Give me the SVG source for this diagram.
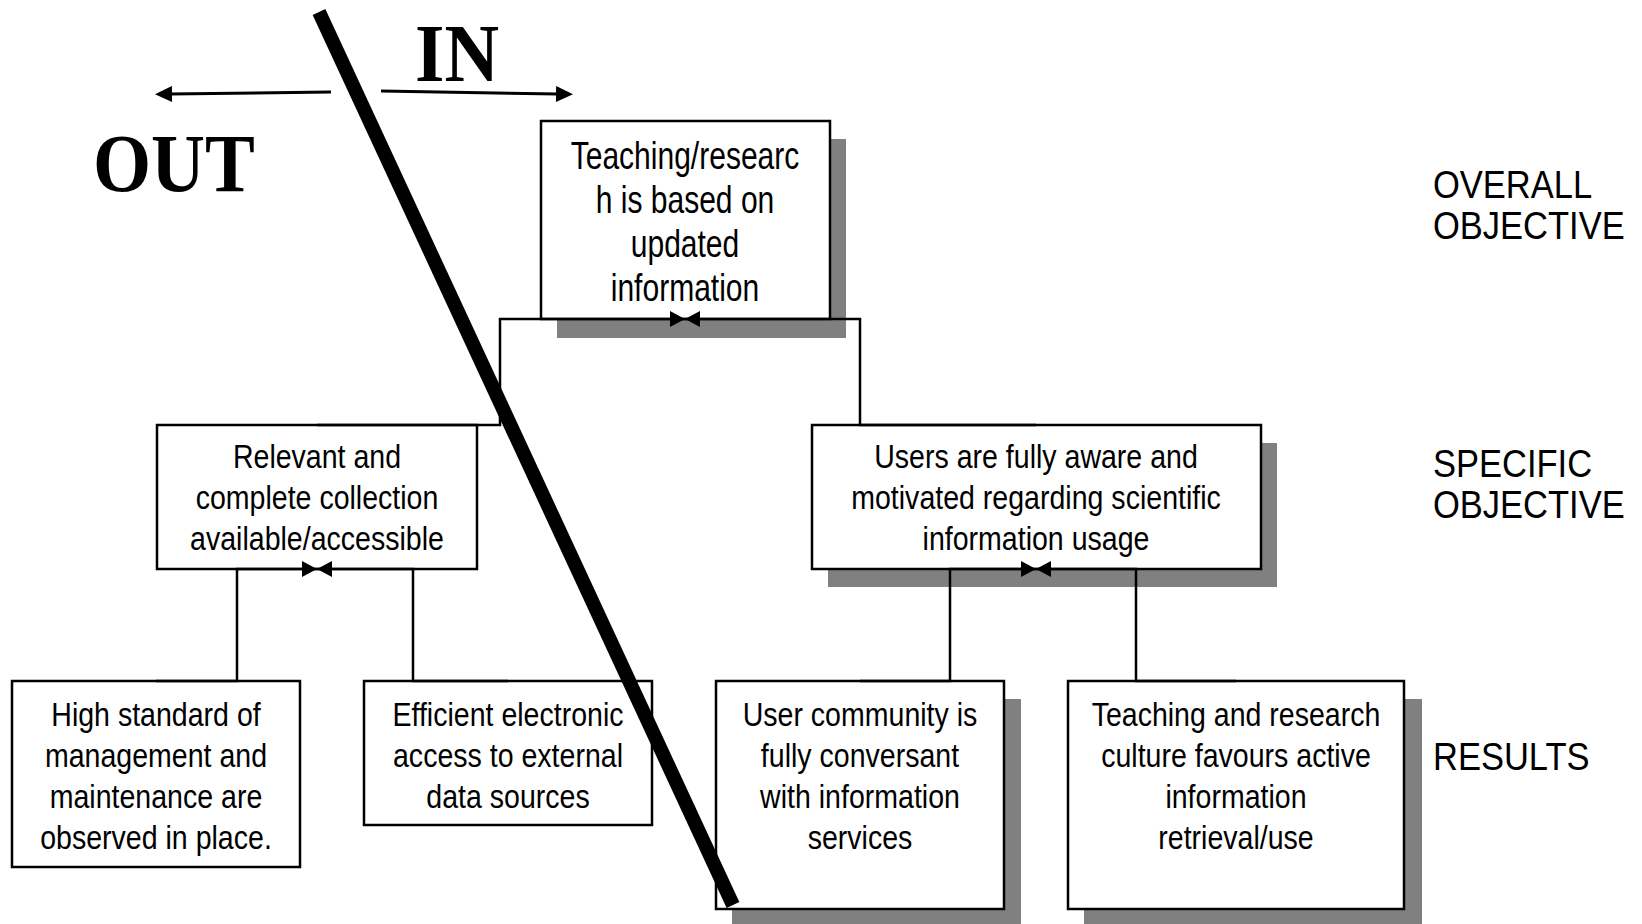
<svg xmlns="http://www.w3.org/2000/svg" width="1642" height="924" viewBox="0 0 1642 924">
<style>
.box{fill:#fff;stroke:#000;stroke-width:2.5}
.shadow{fill:#808080}
.t{font-family:"Liberation Sans",Arial,sans-serif;font-size:34px;text-anchor:middle;fill:#000}
.tt{font-family:"Liberation Sans",Arial,sans-serif;font-size:39px;text-anchor:middle;fill:#000}
.lbl{font-family:"Liberation Sans",Arial,sans-serif;font-size:39px;fill:#000}
.big{font-family:"Liberation Serif","Times New Roman",serif;font-size:83px;font-weight:bold;fill:#000}
.conn{fill:none;stroke:#000;stroke-width:2.5}
.arr{fill:none;stroke:#000;stroke-width:3}
</style>
<defs>
<marker id="ah" markerWidth="18" markerHeight="16" refX="2" refY="8" orient="auto" markerUnits="userSpaceOnUse"><path d="M0,0 L17,8 L0,16 Z" fill="#000"/></marker>
<path id="bowtie" d="M-15,-8 L0,0 L-15,8 Z M15,-8 L0,0 L15,8 Z" fill="#000"/>
</defs>

<g id="shadows">
<rect class="shadow" x="557" y="139" width="289" height="199"/>
<rect class="shadow" x="828" y="443" width="449" height="144"/>
<rect class="shadow" x="732" y="699" width="289" height="230"/>
<rect class="shadow" x="1084" y="699" width="338" height="230"/>
</g>

<g id="n-overall">
<rect class="box" x="541" y="121" width="289" height="198"/>
<g transform="translate(685,0) scale(0.77,1)">
<text class="tt" x="0" y="169">Teaching/researc</text>
<text class="tt" x="0" y="213">h is based on</text>
<text class="tt" x="0" y="257">updated</text>
<text class="tt" x="0" y="301">information</text>
</g>
</g>

<g id="n-specific-left">
<rect class="box" x="157" y="425" width="320" height="144"/>
<g transform="translate(317,0) scale(0.84,1)">
<text class="t" x="0" y="468">Relevant and</text>
<text class="t" x="0" y="509">complete collection</text>
<text class="t" x="0" y="550">available/accessible</text>
</g>
</g>

<g id="n-specific-right">
<rect class="box" x="812" y="425" width="449" height="144"/>
<g transform="translate(1036,0) scale(0.84,1)">
<text class="t" x="0" y="468">Users are fully aware and</text>
<text class="t" x="0" y="509">motivated regarding scientific</text>
<text class="t" x="0" y="550">information usage</text>
</g>
</g>

<g id="n-result-1">
<rect class="box" x="12" y="681" width="288" height="186"/>
<g transform="translate(156,0) scale(0.84,1)">
<text class="t" x="0" y="726">High standard of</text>
<text class="t" x="0" y="767">management and</text>
<text class="t" x="0" y="808">maintenance are</text>
<text class="t" x="0" y="849">observed in place.</text>
</g>
</g>

<g id="n-result-2">
<rect class="box" x="364" y="681" width="288" height="144"/>
<g transform="translate(508,0) scale(0.84,1)">
<text class="t" x="0" y="726">Efficient electronic</text>
<text class="t" x="0" y="767">access to external</text>
<text class="t" x="0" y="808">data sources</text>
</g>
</g>

<g id="n-result-3">
<rect class="box" x="716" y="681" width="288" height="228"/>
<g transform="translate(860,0) scale(0.84,1)">
<text class="t" x="0" y="726">User community is</text>
<text class="t" x="0" y="767">fully conversant</text>
<text class="t" x="0" y="808">with information</text>
<text class="t" x="0" y="849">services</text>
</g>
</g>

<g id="n-result-4">
<rect class="box" x="1068" y="681" width="336" height="228"/>
<g transform="translate(1236,0) scale(0.84,1)">
<text class="t" x="0" y="726">Teaching and research</text>
<text class="t" x="0" y="767">culture favours active</text>
<text class="t" x="0" y="808">information</text>
<text class="t" x="0" y="849">retrieval/use</text>
</g>
</g>

<g id="connectors">
<path class="conn" d="M317,425 H500 V319 H860 V425 H1036"/>
<path class="conn" d="M156,681 H237 V569 H413 V681 H508"/>
<path class="conn" d="M860,681 H950 V569 H1136 V681 H1236"/>
<use href="#bowtie" x="685" y="319"/>
<use href="#bowtie" x="317" y="569"/>
<use href="#bowtie" x="1036" y="569"/>
</g>

<g id="levels">
<g transform="translate(1433,0) scale(0.885,1)">
<text class="lbl" x="0" y="198">OVERALL</text>
<text class="lbl" x="0" y="239">OBJECTIVE</text>
<text class="lbl" x="0" y="477">SPECIFIC</text>
<text class="lbl" x="0" y="518">OBJECTIVE</text>
<text class="lbl" x="0" y="770">RESULTS</text>
</g>
</g>

<g id="in-out">
<path class="arr" d="M331,92 L170,94" marker-end="url(#ah)"/>
<path class="arr" d="M381,91 L558,94" marker-end="url(#ah)"/>
<text class="big" transform="translate(415,81) scale(0.91,1)" x="0" y="0">IN</text>
<text class="big" transform="translate(93,191) scale(0.9,1)" x="0" y="0">OUT</text>
<line x1="319" y1="12" x2="733" y2="905" stroke="#000" stroke-width="14"/>
</g>
</svg>
